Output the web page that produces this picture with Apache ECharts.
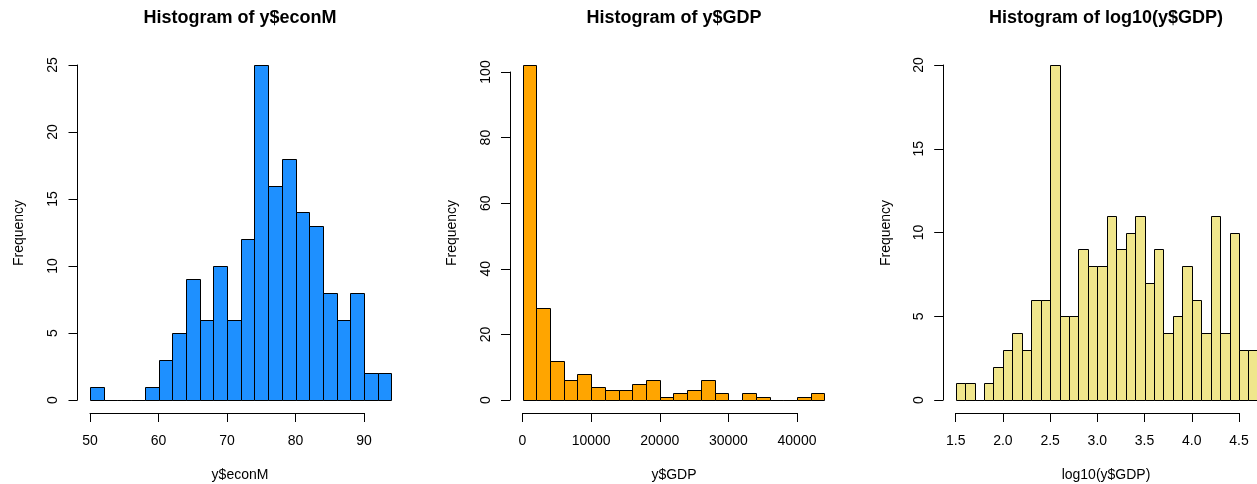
<!DOCTYPE html>
<html>
<head>
<meta charset="utf-8">
<script src="https://cdn.jsdelivr.net/npm/echarts@6/dist/echarts.min.js"></script>
<style>
  html, body { margin: 0; padding: 0; background: #fff; }
  #chart { width: 1257px; height: 484px; }
</style>
</head>
<body>
<div id="chart"></div>
<script>
// Bin edges and counts for each histogram
var econBreaks = [50, 52, 54, 56, 58, 60, 62, 64, 66, 68, 70, 72, 74, 76, 78, 80, 82, 84, 86, 88, 90, 92, 94];
var econCounts = [1, 0, 0, 0, 1, 3, 5, 9, 6, 10, 6, 12, 25, 16, 18, 14, 13, 8, 6, 8, 2, 2];

var gdpBreaks = [0, 2000, 4000, 6000, 8000, 10000, 12000, 14000, 16000, 18000, 20000, 22000,
                 24000, 26000, 28000, 30000, 32000, 34000, 36000, 38000, 40000, 42000, 44000];
var gdpCounts = [102, 28, 12, 6, 8, 4, 3, 3, 5, 6, 1, 2, 3, 6, 2, 0, 2, 1, 0, 0, 1, 2];

var logBreaks = [1.5, 1.6, 1.7, 1.8, 1.9, 2.0, 2.1, 2.2, 2.3, 2.4, 2.5, 2.6, 2.7, 2.8, 2.9, 3.0, 3.1,
                 3.2, 3.3, 3.4, 3.5, 3.6, 3.7, 3.8, 3.9, 4.0, 4.1, 4.2, 4.3, 4.4, 4.5, 4.6, 4.7];
var logCounts = [1, 1, 0, 1, 2, 3, 4, 3, 6, 6, 20, 5, 5, 9, 8, 8, 11, 9, 10, 11, 7, 9, 4, 5, 8, 6, 4, 11, 4, 10, 3, 3];

// Axis tick ranges: [min, max, step]
var econXTicks = [50, 90, 10];
var gdpXTicks = [0, 40000, 10000];
var logXTicks = [1.5, 4.5, 0.5];
var econYTicks = [0, 25, 5];
var gdpYTicks = [0, 100, 20];
var logYTicks = [0, 20, 5];

var titles = ['Histogram of y$econM', 'Histogram of y$GDP', 'Histogram of log10(y$GDP)'];
var xNames = ['y$econM', 'y$GDP', 'log10(y$GDP)'];
var yName = 'Frequency';

var FONT = '"Liberation Sans", Arial, Helvetica, sans-serif';

function binData(breaks, counts) {
  var out = [];
  for (var i = 0; i < counts.length; i++) out.push([breaks[i], breaks[i + 1], counts[i]]);
  return out;
}

function renderBin(fill) {
  return function (params, api) {
    var p0 = api.coord([api.value(0), 0]);
    var p1 = api.coord([api.value(1), api.value(2)]);
    var x0 = Math.round(p0[0]) + 0.5, x1 = Math.round(p1[0]) + 0.5;
    var y0 = Math.round(p0[1]) + 0.5, y1 = Math.round(p1[1]) + 0.5;
    return {
      type: 'rect',
      shape: { x: x0, y: y1, width: x1 - x0, height: y0 - y1 },
      style: { fill: fill, stroke: '#000', lineWidth: 1 }
    };
  };
}

var grids = [
  { left: 90, top: 65, width: 274, height: 335 },
  { left: 522.5, top: 72, width: 274.5, height: 328 },
  { left: 955.7, top: 65, width: 283.3, height: 335 }
];

function plain(v) { return String(v); }
function oneDecimal(v) { return v.toFixed(1); }

function xAxisDef(idx, t, fmt) {
  return {
    gridIndex: idx, type: 'value', min: t[0], max: t[1], interval: t[2],
    position: 'bottom', offset: 13,
    axisLine: { show: true, onZero: false, lineStyle: { color: '#000', width: 1 } },
    axisTick: { show: true, length: 9, lineStyle: { color: '#000', width: 1 } },
    axisLabel: { color: '#000', fontSize: 14, fontFamily: FONT, margin: 21, formatter: fmt },
    splitLine: { show: false }
  };
}
function yAxisDef(idx, t) {
  return {
    gridIndex: idx, type: 'value', min: t[0], max: t[1], interval: t[2],
    position: 'left', offset: 12.5,
    axisLine: { show: true, onZero: false, lineStyle: { color: '#000', width: 1 } },
    axisTick: { show: true, length: 9, lineStyle: { color: '#000', width: 1 } },
    axisLabel: { color: '#000', fontSize: 14, fontFamily: FONT, margin: 17, rotate: 90, formatter: plain },
    splitLine: { show: false }
  };
}

var graphics = [];
var titleX = [240, 674, 1106];
var yNameX = [19, 452, 886];
for (var i = 0; i < 3; i++) {
  graphics.push({
    type: 'text', x: titleX[i], y: 18,
    style: { text: titles[i], font: 'bold 18px ' + FONT, fill: '#000', align: 'center', verticalAlign: 'middle' }
  });
  graphics.push({
    type: 'text', x: titleX[i], y: 475,
    style: { text: xNames[i], font: '14px ' + FONT, fill: '#000', align: 'center', verticalAlign: 'middle' }
  });
  graphics.push({
    type: 'text', x: yNameX[i], y: 233, rotation: Math.PI / 2,
    style: { text: yName, font: '14px ' + FONT, fill: '#000', align: 'center', verticalAlign: 'middle' }
  });
}

var chart = echarts.init(document.getElementById('chart'), null, { renderer: 'canvas' });
chart.setOption({
  animation: false,
  backgroundColor: '#fff',
  grid: grids,
  xAxis: [
    xAxisDef(0, econXTicks, plain),
    xAxisDef(1, gdpXTicks, plain),
    xAxisDef(2, logXTicks, oneDecimal)
  ],
  yAxis: [yAxisDef(0, econYTicks), yAxisDef(1, gdpYTicks), yAxisDef(2, logYTicks)],
  series: [
    { type: 'custom', xAxisIndex: 0, yAxisIndex: 0, clip: false, renderItem: renderBin('#1E90FF'),
      encode: { x: [0, 1], y: 2 }, data: binData(econBreaks, econCounts) },
    { type: 'custom', xAxisIndex: 1, yAxisIndex: 1, clip: false, renderItem: renderBin('#FFA500'),
      encode: { x: [0, 1], y: 2 }, data: binData(gdpBreaks, gdpCounts) },
    { type: 'custom', xAxisIndex: 2, yAxisIndex: 2, clip: false, renderItem: renderBin('#F0E68C'),
      encode: { x: [0, 1], y: 2 }, data: binData(logBreaks, logCounts) }
  ],
  graphic: graphics
});
</script>
</body>
</html>
